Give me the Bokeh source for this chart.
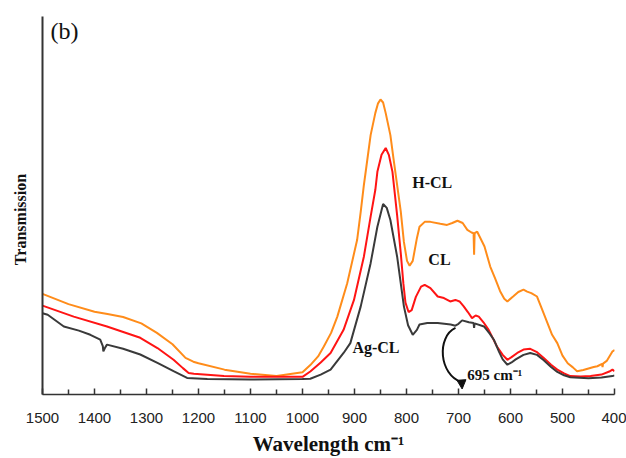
from bokeh.plotting import figure
from bokeh.models import Range1d, FixedTicker, Arrow, NormalHead
from bokeh.core.properties import value
from bokeh.embed import file_html
from bokeh.resources import INLINE

# ---------------- data ----------------
hcl_x = [1500, 1450, 1400, 1375, 1345, 1310, 1280, 1250, 1225, 1210, 1200, 1150, 1100, 1050,
         1000, 985, 970, 959, 945, 933, 914, 895, 888, 882, 879, 869, 860, 855, 850, 845,
         840, 831, 825, 818, 811, 805, 799, 794, 788, 780, 775, 765, 754, 735, 722, 712,
         702, 692, 683, 675, 671, 670, 669, 664, 650, 639, 630, 620, 612, 606, 595, 585,
         575, 568, 560, 549, 540, 530, 520, 510, 500, 490, 480, 472, 460, 450, 440, 433,
         424, 423, 422, 415, 404, 401, 400]
hcl_y = [26.3, 23.6, 21.6, 21.0, 20.2, 18.5, 16.0, 13.0, 9.4, 8.4, 8.0, 6.3, 5.2, 4.6,
         5.6, 7.5, 9.8, 12.4, 16.0, 20.3, 29.1, 40.5, 48.0, 55.0, 58.0, 68.2, 74.0, 76.5, 77.6, 76.8,
         74.0, 68.2, 62.0, 55.0, 48.0, 40.0, 35.0, 33.7, 35.0, 41.0, 44.0, 45.3, 45.3, 44.8, 44.5, 45.0,
         45.6, 45.0, 43.2, 42.5, 42.3, 36.6, 42.3, 42.7, 38.8, 33.5, 30.5, 27.0, 25.0, 24.3, 25.6, 26.8,
         27.4, 26.9, 26.5, 25.6, 22.5, 19.0, 15.5, 13.3, 10.0, 8.0, 6.9, 5.9, 6.2, 6.6, 7.0, 7.2,
         7.8, 7.0, 7.9, 8.6, 11.1, 11.3, 11.6]

cl_x = [1500, 1440, 1376, 1312, 1279, 1248, 1230, 1219, 1209, 1151, 1100, 1050, 1000, 985,
        965, 946, 921, 901, 882, 869, 860, 856, 848, 840, 834, 827, 818, 811, 806, 802,
        796, 790, 782, 772, 765, 754, 740, 728, 716, 706, 698, 690, 682, 674, 667, 661,
        652, 642, 626, 615, 606, 598, 587, 575, 562, 550, 536, 522, 510, 497, 485, 465,
        446, 425, 410, 404, 400]
cl_y = [23.2, 20.3, 17.7, 14.7, 12.0, 8.9, 6.7, 5.4, 5.2, 4.6, 4.4, 4.4, 4.4, 5.8,
        8.2, 10.7, 16.8, 24.7, 36.1, 46.7, 53.7, 58.5, 63.0, 64.8, 63.0, 58.5, 47.0, 37.0, 29.0, 24.0,
        21.5, 22.0, 25.5, 28.2, 28.7, 27.8, 25.6, 25.2, 24.3, 24.7, 24.3, 23.0, 21.5, 19.9, 20.6, 20.3,
        18.8, 16.8, 12.4, 10.2, 8.9, 9.6, 10.7, 11.6, 11.8, 11.0, 9.4, 7.6, 6.3, 5.3, 4.6, 4.5,
        4.6, 5.0, 5.8, 6.3, 5.9]

agcl_x = [1500, 1490, 1459, 1430, 1408, 1389, 1384, 1383, 1380, 1376, 1345, 1312, 1279, 1248,
          1222, 1183, 1100, 1000, 985, 965, 946, 921, 908, 888, 869, 856, 845, 838, 831, 818,
          805, 797, 788, 780, 775, 760, 740, 715, 706, 700, 693, 680, 671, 670, 669, 651,
          640, 632, 622, 615, 606, 598, 590, 575, 562, 549, 536, 522, 510, 497, 485, 450,
          425, 404, 400]
agcl_y = [21.2, 20.8, 17.7, 16.6, 15.5, 14.2, 12.5, 11.1, 12.0, 12.9, 11.8, 10.3, 8.1, 5.9,
          4.1, 3.8, 3.7, 3.8, 3.9, 5.0, 6.3, 10.7, 13.3, 23.0, 34.4, 44.0, 50.0, 49.0, 45.8, 36.1,
          23.0, 18.0, 15.5, 16.8, 18.2, 18.6, 18.6, 18.2, 17.9, 18.4, 19.3, 18.8, 18.6, 17.3, 18.5, 17.7,
          15.8, 14.2, 11.0, 9.0, 7.6, 8.2, 9.0, 10.2, 10.7, 10.2, 8.8, 7.0, 5.7, 4.8, 4.3, 4.0,
          4.2, 4.6, 4.8]

x_ticks = [1500, 1400, 1300, 1200, 1100, 1000, 900, 800, 700, 600, 500, 400]
x_minor = [1450, 1350, 1250, 1150, 1050, 950, 850, 750, 650, 550, 450]

labels_text = ["H-CL", "CL", "Ag-CL"]
labels_x = [789, 758, 904]
labels_y = [55.7, 35.3, 12.2]

# arrow (695 cm-1 marker): bezier start, controls, end
arrow_pts = [(705.8, 17.3), (742.0, 15.0), (738.0, 5.0), (694.0, 3.0)]
arrow_tip = (693.0, 1.2)

ORANGE = "#ff8c1a"
RED = "#ff1414"
DARK = "#3a3a3a"

p = figure(width=626, height=458, output_backend="svg", toolbar_location=None,
           x_range=Range1d(1500, 400), y_range=Range1d(-0.26, 99.5),
           min_border_left=42, min_border_right=12, min_border_top=16, min_border_bottom=63)

p.outline_line_color = None
p.xgrid.visible = False
p.ygrid.visible = False
p.background_fill_color = "white"
p.border_fill_color = "white"

p.line(hcl_x, hcl_y, line_color=ORANGE, line_width=2)
p.line(cl_x, cl_y, line_color=RED, line_width=2)
p.line(agcl_x, agcl_y, line_color=DARK, line_width=2)

# x axis
xa = p.xaxis[0]
xa.ticker = FixedTicker(ticks=x_ticks, minor_ticks=x_minor)
xa.axis_line_color = "#333333"
xa.axis_line_width = 1.5
xa.major_tick_in = 6
xa.major_tick_out = 0
xa.minor_tick_in = 5
xa.minor_tick_out = 0
xa.major_tick_line_color = "#333333"
xa.minor_tick_line_color = "#333333"
xa.major_tick_line_width = 1.5
xa.minor_tick_line_width = 1.5
xa.major_label_text_font = "Liberation Sans"
xa.major_label_text_font_size = "15px"
xa.major_label_text_color = "#222222"
xa.major_label_standoff = 18
xa.axis_label = "Wavelength cm⁻¹"
xa.axis_label_text_font = "Liberation Serif"
xa.axis_label_text_font_style = "bold"
xa.axis_label_text_font_size = "21px"
xa.axis_label_text_color = "#111111"
xa.axis_label_standoff = 6

# y axis
ya = p.yaxis[0]
ya.ticker = FixedTicker(ticks=[])
ya.major_tick_in = 0
ya.major_tick_out = 0
ya.minor_tick_in = 0
ya.minor_tick_out = 0
ya.axis_line_color = "#333333"
ya.axis_line_width = 2
ya.major_label_text_font_size = "0px"
ya.axis_label = "Transmission" + "\u00a0" * 7
ya.axis_label_text_font = "Liberation Serif"
ya.axis_label_text_font_style = "bold"
ya.axis_label_text_font_size = "16px"
ya.axis_label_text_color = "#111111"
ya.axis_label_standoff = 14

# curve labels
p.text(x=labels_x, y=labels_y, text=labels_text, text_font=value("Liberation Serif"),
       text_font_style="bold", text_font_size="16px", text_color="#111111",
       text_align="left", text_baseline="middle")

p.text(x=[683], y=[4.8], text=["695 cm⁻¹"], text_font=value("Liberation Serif"),
       text_font_style="bold", text_font_size="15px", text_color="#111111",
       text_align="left", text_baseline="middle")

p.text(x=[1484.6], y=[95.8], text=["(b)"], text_font=value("Liberation Serif"),
       text_font_size="24px", text_color="#111111",
       text_align="left", text_baseline="middle")

# curved arrow
(x0, y0), (cx0, cy0), (cx1, cy1), (x1, y1) = arrow_pts
p.bezier(x0=[x0], y0=[y0], cx0=[cx0], cy0=[cy0], cx1=[cx1], cy1=[cy1], x1=[x1], y1=[y1],
         line_color="#111111", line_width=2)
p.add_layout(Arrow(end=NormalHead(size=9, fill_color="#111111", line_color="#111111"),
                   x_start=x1, y_start=y1, x_end=arrow_tip[0], y_end=arrow_tip[1],
                   line_color="#111111", line_width=2))

open("out.html", "w").write(file_html(p, INLINE))
